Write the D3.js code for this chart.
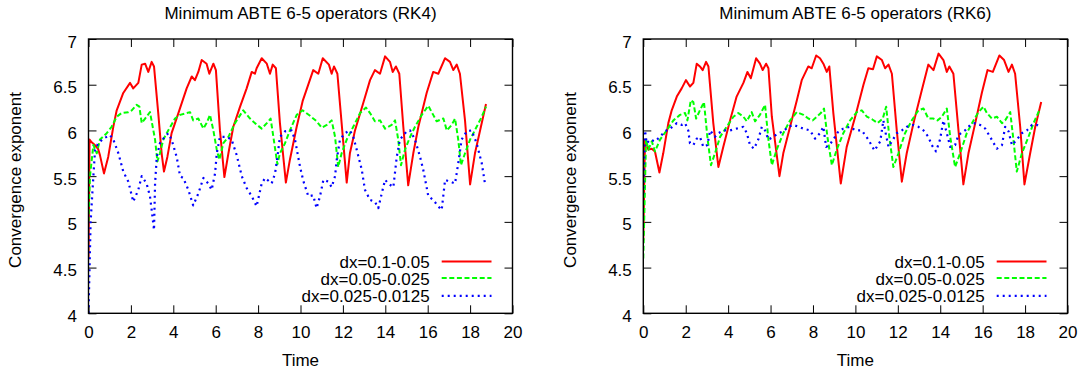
<!DOCTYPE html>
<html>
<head>
<meta charset="utf-8">
<script src="https://cdn.jsdelivr.net/npm/d3@7"></script>
<style>
  html, body { margin: 0; padding: 0; background: #fff; }
  svg { display: block; }
  text { font-family: "Liberation Sans", Arial, Helvetica, sans-serif; fill: #000; }
</style>
</head>
<body>
<svg id="chart" width="1085" height="373"></svg>
<script>
// Convergence exponent versus time, [time, exponent] pairs per grid pair.
const rk4Coarse = [[0,4.6],[0.05,5.9],[0.15,5.87],[0.3,5.84],[0.45,5.8],[0.54,5.73],[0.73,5.53],[0.93,5.71],[1.17,6.04],[1.33,6.22],[1.64,6.41],[1.96,6.52],[2.11,6.46],[2.35,6.52],[2.51,6.72],[2.67,6.73],[2.82,6.64],[2.98,6.75],[3.09,6.70],[3.29,6.19],[3.45,5.75],[3.56,5.55],[3.72,5.71],[3.92,5.97],[4.24,6.19],[4.63,6.46],[4.87,6.59],[5.02,6.55],[5.18,6.64],[5.34,6.77],[5.57,6.73],[5.70,6.62],[5.89,6.73],[6.01,6.66],[6.20,6.0],[6.41,5.49],[6.6,5.75],[6.83,6.04],[7.15,6.26],[7.46,6.46],[7.70,6.64],[7.85,6.62],[7.93,6.68],[8.17,6.79],[8.41,6.73],[8.56,6.62],[8.69,6.72],[8.84,6.68],[9.03,6.08],[9.31,5.43],[9.5,5.68],[9.82,6.04],[10.1,6.32],[10.6,6.66],[10.84,6.62],[11.05,6.79],[11.34,6.72],[11.47,6.62],[11.58,6.70],[11.74,6.62],[11.94,6.08],[12.18,5.43],[12.33,5.75],[12.57,6.0],[12.96,6.30],[13.28,6.55],[13.51,6.66],[13.75,6.62],[13.99,6.81],[14.22,6.75],[14.35,6.64],[14.5,6.70],[14.66,6.62],[14.85,6.04],[15.08,5.40],[15.32,5.75],[15.56,6.04],[15.95,6.41],[16.26,6.64],[16.5,6.62],[16.82,6.79],[17.05,6.75],[17.21,6.66],[17.37,6.72],[17.52,6.62],[17.76,6.11],[18.0,5.41],[18.23,5.75],[18.47,6.0],[18.75,6.29]];
const rk4Mid = [[0,5.0],[0.07,5.5],[0.23,5.84],[0.39,5.75],[0.54,5.9],[0.86,5.97],[1.09,6.04],[1.33,6.15],[1.56,6.19],[1.88,6.2],[2.04,6.22],[2.27,6.28],[2.4,6.26],[2.51,6.08],[2.67,6.13],[2.9,6.2],[2.98,6.1],[3.14,5.9],[3.25,5.66],[3.37,5.75],[3.53,5.9],[3.76,6.0],[4.08,6.13],[4.32,6.17],[4.63,6.19],[4.79,6.2],[4.94,6.11],[5.18,6.13],[5.42,6.02],[5.57,6.08],[5.73,6.17],[5.89,6.0],[6.05,5.79],[6.17,5.68],[6.36,5.86],[6.6,5.93],[6.91,6.08],[7.3,6.22],[7.62,6.13],[7.85,6.08],[8.17,6.02],[8.41,6.08],[8.59,6.13],[8.72,5.93],[8.91,5.63],[9.03,5.75],[9.27,5.86],[9.5,6.0],[9.82,6.17],[10.1,6.22],[10.45,6.16],[10.76,6.10],[11.0,6.03],[11.24,6.06],[11.47,6.11],[11.63,5.93],[11.78,5.6],[11.94,5.75],[12.18,5.9],[12.49,6.04],[12.81,6.19],[13.09,6.25],[13.28,6.19],[13.51,6.10],[13.75,6.11],[13.99,6.02],[14.3,6.06],[14.46,6.11],[14.61,5.9],[14.74,5.62],[14.93,5.79],[15.17,5.93],[15.4,6.04],[15.72,6.17],[16.03,6.27],[16.26,6.17],[16.42,6.10],[16.74,6.13],[16.9,6.0],[17.13,6.06],[17.29,6.13],[17.44,5.9],[17.57,5.62],[17.76,5.75],[18.0,5.9],[18.31,6.04],[18.55,6.15],[18.75,6.26]];
const rk4Fine = [[0,4.0],[0.1,5.0],[0.23,5.5],[0.31,5.79],[0.46,5.86],[0.7,5.91],[1.01,5.95],[1.17,5.9],[1.41,5.75],[1.64,5.55],[1.88,5.44],[2.11,5.22],[2.35,5.35],[2.51,5.5],[2.74,5.42],[2.9,5.28],[2.98,5.13],[3.09,4.91],[3.14,5.42],[3.22,5.71],[3.37,5.86],[3.53,5.91],[3.76,5.97],[3.92,5.9],[4.16,5.71],[4.32,5.5],[4.47,5.48],[4.71,5.35],[4.94,5.18],[5.18,5.31],[5.42,5.48],[5.65,5.42],[5.81,5.35],[5.97,5.53],[6.05,5.75],[6.2,5.93],[6.52,5.93],[6.75,5.9],[6.99,5.73],[7.23,5.5],[7.46,5.37],[7.7,5.28],[7.93,5.17],[8.17,5.42],[8.33,5.48],[8.64,5.42],[8.8,5.53],[8.91,5.71],[9.03,5.93],[9.27,5.99],[9.58,6.0],[9.74,5.9],[9.98,5.6],[10.13,5.45],[10.37,5.28],[10.6,5.29],[10.76,5.15],[10.92,5.28],[11.08,5.46],[11.31,5.44],[11.47,5.38],[11.63,5.5],[11.71,5.68],[11.86,5.9],[12.1,5.97],[12.33,6.0],[12.49,5.93],[12.65,5.79],[12.89,5.57],[13.04,5.35],[13.28,5.24],[13.51,5.22],[13.67,5.15],[13.83,5.31],[13.99,5.46],[14.14,5.42],[14.38,5.38],[14.54,5.71],[14.69,5.9],[15.01,5.99],[15.17,6.0],[15.4,5.9],[15.64,5.71],[15.79,5.57],[16.03,5.28],[16.26,5.24],[16.5,5.17],[16.66,5.13],[16.82,5.46],[17.05,5.44],[17.29,5.42],[17.44,5.64],[17.6,5.9],[17.84,5.99],[18.07,6.0],[18.31,5.86],[18.55,5.64],[18.7,5.42]];

const rk6Coarse = [[0,4.8],[0.08,5.9],[0.24,5.79],[0.4,5.8],[0.55,5.77],[0.76,5.54],[0.94,5.75],[1.18,6.08],[1.34,6.22],[1.58,6.37],[1.81,6.46],[2.01,6.55],[2.2,6.48],[2.36,6.52],[2.52,6.73],[2.67,6.70],[2.8,6.66],[2.96,6.75],[3.07,6.70],[3.3,6.08],[3.54,5.6],[3.77,5.82],[4.09,6.11],[4.4,6.37],[4.72,6.52],[4.91,6.64],[5.07,6.57],[5.32,6.79],[5.5,6.73],[5.63,6.66],[5.79,6.73],[5.9,6.68],[6.06,6.15],[6.42,5.50],[6.6,5.75],[6.92,6.04],[7.24,6.33],[7.47,6.55],[7.78,6.70],[7.94,6.68],[8.15,6.82],[8.33,6.79],[8.49,6.73],[8.65,6.64],[8.77,6.70],[8.96,6.19],[9.31,5.42],[9.59,5.82],[9.99,6.15],[10.38,6.5],[10.61,6.68],[10.83,6.67],[11.01,6.81],[11.25,6.77],[11.4,6.68],[11.56,6.72],[11.72,6.62],[11.95,6.0],[12.19,5.44],[12.42,5.75],[12.74,6.08],[13.13,6.44],[13.44,6.72],[13.68,6.66],[13.92,6.84],[14.15,6.77],[14.31,6.64],[14.43,6.70],[14.62,6.62],[14.86,6.0],[15.09,5.41],[15.33,5.75],[15.65,6.08],[15.96,6.41],[16.23,6.66],[16.48,6.64],[16.79,6.82],[17.01,6.77],[17.22,6.64],[17.38,6.72],[17.53,6.62],[17.77,6.04],[17.97,5.41],[18.24,5.75],[18.48,6.04],[18.76,6.31]];
const rk6Mid = [[0,4.6],[0.13,5.9],[0.24,5.79],[0.4,5.88],[0.55,5.77],[0.79,5.9],[1.1,6.0],[1.42,6.11],[1.73,6.17],[1.97,6.19],[2.08,6.11],[2.24,6.33],[2.36,6.31],[2.49,6.13],[2.67,6.22],[2.86,6.31],[3.02,5.93],[3.19,5.62],[3.38,5.75],[3.62,5.93],[3.93,6.04],[4.25,6.15],[4.48,6.19],[4.72,6.15],[4.88,6.10],[5.11,6.20],[5.27,6.10],[5.5,6.17],[5.74,6.28],[5.9,5.9],[6.06,5.62],[6.29,5.79],[6.6,5.97],[6.92,6.11],[7.24,6.20],[7.55,6.17],[7.78,6.13],[7.99,6.11],[8.18,6.15],[8.37,6.19],[8.52,6.24],[8.68,5.93],[8.89,5.62],[9.12,5.79],[9.43,5.97],[9.75,6.11],[10.07,6.20],[10.3,6.22],[10.54,6.15],[10.8,6.12],[11.05,6.08],[11.29,6.13],[11.45,6.26],[11.6,5.93],[11.79,5.6],[12.03,5.75],[12.34,5.97],[12.66,6.11],[12.97,6.22],[13.21,6.24],[13.44,6.13],[13.68,6.13],[13.87,6.11],[14.08,6.15],[14.31,6.24],[14.47,5.93],[14.7,5.6],[14.94,5.75],[15.25,5.97],[15.57,6.11],[15.8,6.20],[16.04,6.26],[16.2,6.19],[16.43,6.13],[16.67,6.15],[16.91,6.08],[17.06,6.11],[17.3,6.20],[17.45,5.90],[17.61,5.55],[17.85,5.75],[18.16,5.93],[18.4,6.08],[18.71,6.24]];
const rk6Fine = [[0,5.3],[0.08,6.0],[0.16,5.86],[0.32,5.9],[0.55,5.88],[0.79,5.93],[1.02,5.99],[1.26,6.02],[1.58,6.08],[1.81,6.06],[1.97,6.08],[2.12,6.0],[2.2,5.86],[2.36,5.84],[2.52,5.91],[2.67,5.93],[2.83,5.82],[3.02,5.84],[3.15,6.0],[3.38,5.93],[3.54,5.97],[3.77,6.0],[4.09,6.0],[4.4,6.02],[4.72,6.04],[4.88,5.97],[5.03,5.84],[5.22,5.8],[5.42,5.9],[5.59,6.04],[5.74,6.0],[5.9,5.9],[6.13,5.93],[6.37,5.97],[6.6,5.99],[6.84,6.04],[7.08,6.06],[7.31,6.04],[7.55,6.02],[7.86,6.0],[8.1,5.91],[8.33,5.97],[8.49,6.04],[8.62,5.82],[8.77,5.84],[8.96,5.9],[9.2,5.99],[9.43,6.02],[9.75,6.04],[10.0,6.0],[10.3,6.0],[10.61,5.9],[10.9,5.78],[11.17,5.88],[11.32,6.11],[11.4,6.0],[11.56,5.82],[11.72,5.88],[11.95,5.97],[12.19,6.0],[12.42,6.04],[12.74,6.06],[12.97,6.04],[13.21,6.0],[13.44,5.93],[13.6,5.84],[13.8,5.77],[13.99,5.9],[14.15,6.11],[14.31,5.97],[14.47,5.82],[14.7,5.84],[14.86,5.95],[15.17,6.0],[15.41,6.06],[15.65,6.08],[15.88,6.06],[16.12,6.02],[16.35,5.93],[16.67,5.8],[16.91,5.84],[17.06,6.04],[17.22,5.99],[17.38,5.84],[17.61,5.9],[17.85,5.97],[18.08,6.0],[18.32,6.06],[18.56,6.06],[18.71,6.04]];

const seriesLabels = ["dx=0.1-0.05", "dx=0.05-0.025", "dx=0.025-0.0125"];
const panelTitles = ["Minimum ABTE 6-5 operators (RK4)", "Minimum ABTE 6-5 operators (RK6)"];
const timeTicks = [0, 2, 4, 6, 8, 10, 12, 14, 16, 18, 20];
const exponentTicks = [4, 4.5, 5, 5.5, 6, 6.5, 7];
const xLabel = "Time";
const yLabel = "Convergence exponent";

// gnuplot-like line styles: solid red, dashed green, dotted blue
const styles = [
  { color: "#ff0000", width: 2, dash: null },
  { color: "#00ff00", width: 2, dash: "5,2.6" },
  { color: "#0000ff", width: 2.2, dash: "2,4" }
];

const panels = [
  { title: panelTitles[0], series: [rk4Coarse, rk4Mid, rk4Fine], left: 88.5, right: 512.5 },
  { title: panelTitles[1], series: [rk6Coarse, rk6Mid, rk6Fine], left: 643.3, right: 1067.5 }
];
const plotTop = 39, plotBottom = 313.3;

const svg = d3.select("#chart");
svg.append("rect").attr("width", 1085).attr("height", 373).attr("fill", "#fff");

panels.forEach((p, pi) => {
  const x = d3.scaleLinear().domain([0, 20]).range([p.left, p.right]);
  const y = d3.scaleLinear().domain([4, 7]).range([plotBottom, plotTop]);
  const g = svg.append("g");
  const fs = "17px";

  // axes with inward ticks on all four sides
  const ax = (sel) => { sel.select(".domain").remove(); sel.selectAll(".tick line").attr("stroke", "#000").attr("stroke-width", 1); };
  g.append("g").attr("transform", `translate(0,${plotBottom})`)
    .call(d3.axisBottom(x).tickValues(timeTicks).tickSize(-8).tickPadding(12.5).tickFormat(d3.format("d")))
    .call(ax).selectAll("text").style("font-size", fs);
  g.append("g").attr("transform", `translate(0,${plotTop})`)
    .call(d3.axisTop(x).tickValues(timeTicks).tickSize(-8).tickFormat(""))
    .call(ax);
  g.append("g").attr("transform", `translate(${p.left},0)`)
    .call(d3.axisLeft(y).tickValues(exponentTicks).tickSize(-8).tickPadding(11.5).tickFormat(d => String(d)))
    .call(ax).selectAll("text").style("font-size", fs).attr("dy", "0.47em");
  g.append("g").attr("transform", `translate(${p.right},0)`)
    .call(d3.axisRight(y).tickValues(exponentTicks).tickSize(-8).tickFormat(""))
    .call(ax);

  // clip region for the curves
  const clipId = "clip" + pi;
  svg.append("clipPath").attr("id", clipId).append("rect")
    .attr("x", p.left).attr("y", plotTop - 2).attr("width", p.right - p.left).attr("height", plotBottom - plotTop + 3);

  const line = d3.line().x(d => x(d[0])).y(d => y(d[1]));
  const curves = g.append("g").attr("clip-path", `url(#${clipId})`);
  p.series.forEach((data, si) => {
    const st = styles[si];
    curves.append("path").datum(data).attr("d", line)
      .attr("fill", "none").attr("stroke", st.color).attr("stroke-width", st.width)
      .attr("stroke-linejoin", "round")
      .attr("stroke-dasharray", st.dash);
  });

  // legend in the lower right corner
  const legRows = [268, 284.6, 302.3];
  seriesLabels.forEach((lab, si) => {
    const st = styles[si];
    g.append("text").attr("x", p.right - 82.8).attr("y", legRows[si])
      .attr("text-anchor", "end").style("font-size", fs).text(lab);
    g.append("line")
      .attr("x1", p.right - 70.8).attr("x2", p.right - 21)
      .attr("y1", legRows[si] - 6.5).attr("y2", legRows[si] - 6.5)
      .attr("stroke", st.color).attr("stroke-width", st.width)
      .attr("stroke-dasharray", st.dash);
  });

  // frame
  g.append("rect").attr("x", p.left).attr("y", plotTop)
    .attr("width", p.right - p.left).attr("height", plotBottom - plotTop)
    .attr("fill", "none").attr("stroke", "#000").attr("stroke-width", 1.4);

  // titles and axis labels
  const cx = (p.left + p.right) / 2;
  g.append("text").attr("x", cx).attr("y", 19).attr("text-anchor", "middle")
    .style("font-size", fs).text(p.title);
  g.append("text").attr("x", cx).attr("y", 365.5).attr("text-anchor", "middle")
    .style("font-size", fs).text(xLabel);
  g.append("text").attr("transform", `translate(${p.left - 67.5},180) rotate(-90)`)
    .attr("text-anchor", "middle").style("font-size", fs).text(yLabel);
});
</script>
</body>
</html>
